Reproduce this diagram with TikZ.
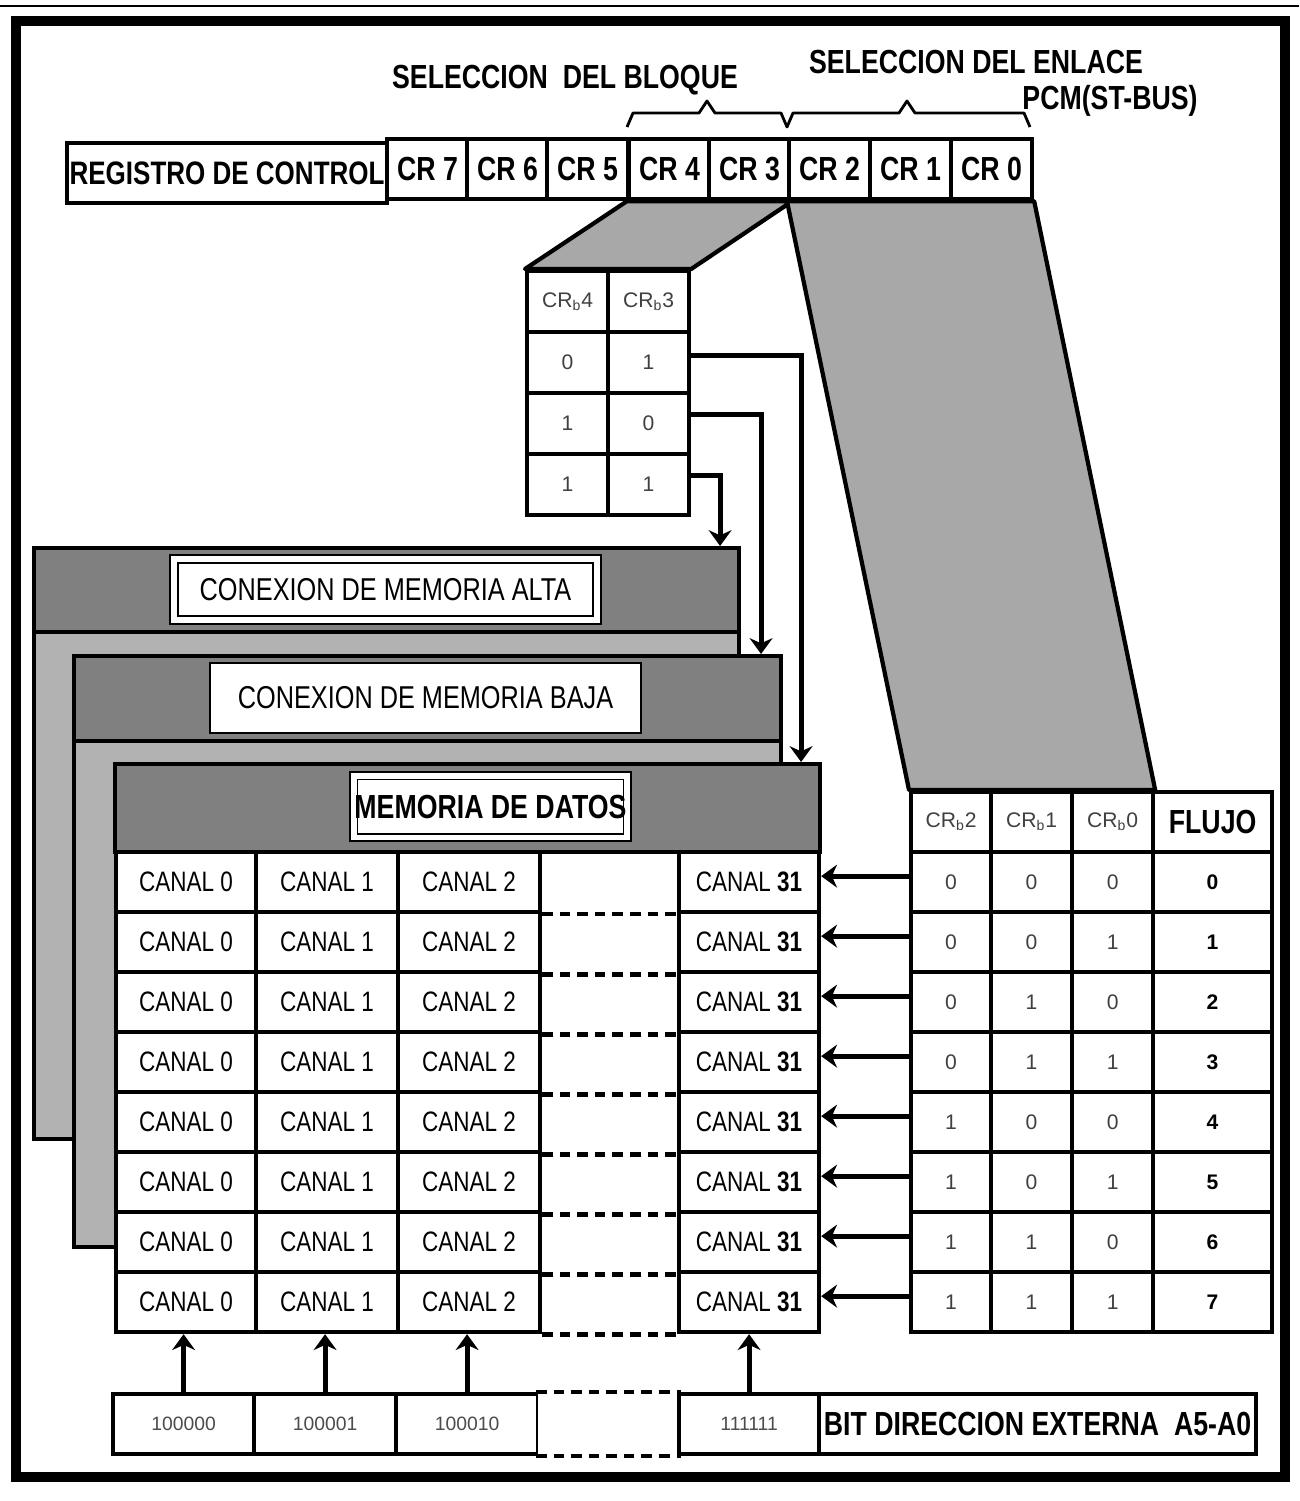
\documentclass[tikz,border=0pt]{standalone}
\usepackage{fontspec}
\setmainfont{Liberation Sans}
\newfontfamily\narrowfont[FakeStretch=0.8]{Liberation Sans}
\usetikzlibrary{arrows.meta,positioning,calc,backgrounds}

\begin{document}
\begin{tikzpicture}[
    x=0.02cm, y=-0.02cm,
    cell/.style={rectangle, draw, line width=2.4pt, inner sep=0pt, anchor=north west, minimum height=1.2cm, fill=white},
    boldtxt/.style={font=\narrowfont\bfseries\fontsize{19}{21}\selectfont},
    memtxt/.style={font=\narrowfont\fontsize{18}{20}\selectfont},
    canaltxt/.style={font=\narrowfont\fontsize{16}{18}\selectfont},
    smalltxt/.style={font=\fontsize{12}{14}\selectfont, text=black!75},
    addrtxt/.style={font=\fontsize{11}{13}\selectfont, text=black!70},
    dbox/.style={draw, fill=white, double=white, double distance=3.4pt, line width=1.1pt, inner sep=0pt},
    sbox/.style={draw, fill=white, line width=1.2pt, inner sep=0pt},
    dashline/.style={line width=2.6pt, dash pattern=on 6pt off 4pt},
    arrow/.style={->, >={Stealth[length=9pt, width=13pt]}, line width=2.8pt}
]
\useasboundingbox (0,0) rectangle (1299,1501);

% Frame
\draw[line width=1.2pt] (0,6) -- (1299,6);
\draw[line width=6pt] (16,21) rectangle (1285,1477);

% Control register
\node[cell, minimum width=6.4cm, boldtxt, font=\narrowfont\bfseries\fontsize{18.5}{21}\selectfont] (reg) at (65,141) {REGISTRO DE CONTROL};
\foreach \n/\x in {7/385, 6/465, 5/545, 4/627, 3/707, 2/787, 1/868, 0/949}
    \node[cell, minimum width=1.62cm, boldtxt] (cr\n) at (\x,137) {CR \n};

% Braces and titles
\draw[line width=1.6pt, line join=round]
    (627,127) -- (633,113) -- (699,113) -- (707,101) -- (715,113) -- (781,113) -- (787,127)
    -- (793,113) -- (899,113) -- (907,101) -- (915,113) -- (1024,113) -- (1030,127);
\node[boldtxt] (selbloque) at (565,80) {SELECCION\ \ DEL BLOQUE};
\node[boldtxt] (selenlace) at (976,62) {SELECCION DEL ENLACE};
\node[boldtxt] (pcm) at (1110,101) {PCM(ST-BUS)};

% Block selection table
\node[cell, minimum width=1.62cm, minimum height=1.22cm, smalltxt] (bh4) at (525,269) {CR\textsubscript{b}4};
\node[cell, minimum width=1.62cm, minimum height=1.22cm, smalltxt] (bh3) at (606,269) {CR\textsubscript{b}3};
\foreach \r/\p/\q in {1/0/1, 2/1/0, 3/1/1} {
    \pgfmathsetmacro{\yy}{330+61*(\r-1)}
    \node[cell, minimum width=1.62cm, minimum height=1.22cm, smalltxt] (blk-\r-4) at (525,\yy) {\p};
    \node[cell, minimum width=1.62cm, minimum height=1.22cm, smalltxt] (blk-\r-3) at (606,\yy) {\q};
}

% Memory blocks
\node[cell, fill=gray!60, minimum width=14.1cm, minimum height=11.82cm] (alta) at (32,546) {};
\node[cell, fill=gray, minimum width=14.1cm, minimum height=1.68cm] (altah) at (32,546) {};
\node[dbox, minimum width=8.46cm, minimum height=1.22cm, memtxt] (altal) at (385.5,589.5) {CONEXION DE MEMORIA ALTA};

\node[cell, fill=gray!60, minimum width=14.14cm, minimum height=11.82cm] (baja) at (72,654) {};
\node[cell, fill=gray, minimum width=14.14cm, minimum height=1.7cm] (bajah) at (72,654) {};
\node[sbox, minimum width=8.62cm, minimum height=1.4cm, memtxt] (bajal) at (425.5,698) {CONEXION DE MEMORIA BAJA};

\node[cell, draw=none, minimum width=14.1cm, minimum height=11.36cm] (datos) at (113,762) {};
\node[cell, fill=gray, minimum width=14.1cm, minimum height=1.76cm] (datosh) at (113,762) {};
\node[dbox, minimum width=5.48cm, minimum height=1.24cm, boldtxt] (datosl) at (490.5,806.5) {MEMORIA DE DATOS};

% Channels
\foreach \r in {1,...,8} {
    \pgfmathsetmacro{\yy}{850+60*(\r-1)}
    \node[cell, minimum width=2.8cm, canaltxt] (can-\r-0) at (114,\yy) {CANAL 0};
    \node[cell, minimum width=2.84cm, canaltxt] (can-\r-1) at (254,\yy) {CANAL 1};
    \node[cell, minimum width=2.84cm, canaltxt] (can-\r-2) at (396,\yy) {CANAL 2};
    \node[cell, minimum width=2.8cm, canaltxt] (can-\r-31) at (677,\yy) {CANAL \textbf{31}};
    \draw[dashline] (can-\r-2.south east) -- (can-\r-31.south west);
}

% Stream table
\node[cell, minimum width=1.6cm, smalltxt] (f2h) at (909,790) {CR\textsubscript{b}2};
\node[cell, minimum width=1.62cm, smalltxt] (f1h) at (989,790) {CR\textsubscript{b}1};
\node[cell, minimum width=1.62cm, smalltxt] (f0h) at (1070,790) {CR\textsubscript{b}0};
\node[cell, minimum width=2.38cm, boldtxt] (fh) at (1151,790) {FLUJO};
\foreach \r/\a/\b/\c in {1/0/0/0, 2/0/0/1, 3/0/1/0, 4/0/1/1, 5/1/0/0, 6/1/0/1, 7/1/1/0, 8/1/1/1} {
    \pgfmathsetmacro{\yy}{850+60*(\r-1)}
    \pgfmathtruncatemacro{\n}{\r-1}
    \node[cell, minimum width=1.6cm, smalltxt] (fl-\r-2) at (909,\yy) {\a};
    \node[cell, minimum width=1.62cm, smalltxt] (fl-\r-1) at (989,\yy) {\b};
    \node[cell, minimum width=1.62cm, smalltxt] (fl-\r-0) at (1070,\yy) {\c};
    \node[cell, minimum width=2.38cm, smalltxt, text=black, font=\bfseries\fontsize{12}{14}\selectfont] (fl-\r-n) at (1151,\yy) {\n};
    \draw[arrow] ([yshift=3.4pt]fl-\r-2.west) -- ([yshift=3.4pt]can-\r-31.east);
}

% External address bits
\node[cell, minimum width=2.82cm, addrtxt] (addr-a) at (111,1392) {100000};
\node[cell, minimum width=2.84cm, addrtxt] (addr-b) at (252,1392) {100001};
\node[cell, minimum width=2.84cm, addrtxt] (addr-c) at (394,1392) {100010};
\node[cell, draw=none, minimum width=2.82cm] (addr-d) at (536,1392) {};
\node[cell, minimum width=2.8cm, addrtxt] (addr-e) at (677,1392) {111111};
\node[cell, minimum width=8.74cm, boldtxt] (addr-f) at (817,1392) {BIT DIRECCION EXTERNA\ \ A5-A0};
\draw[dashline, line width=2pt] (addr-d.north west) -- (addr-d.north east);
\draw[dashline, line width=2pt] (addr-d.south west) -- (addr-d.south east);
\foreach \a/\c in {a/0, b/1, c/2, e/31}
    \draw[arrow] (addr-\a.north) -- (addr-\a.north |- can-8-\c.south);

% Block select arrows
\draw[arrow] ([yshift=4.3pt]blk-1-3.east) -| ([xshift=-0.42cm]datosh.north east);
\draw[arrow] ([yshift=5pt]blk-2-3.east) -| ([xshift=-0.44cm]bajah.north east);
\draw[arrow] ([yshift=5pt]blk-3-3.east) -| ([xshift=-0.42cm]altah.north east);

% Projections
\begin{scope}[on background layer]
    \draw[fill=gray!68, line width=2.4pt, line join=round] (bh4.north west) -- (cr4.south west) -- (cr3.south east) -- (bh3.north east) -- cycle;
    \draw[fill=gray!68, line width=2.4pt, line join=round] (cr2.south west) -- (cr0.south east) -- (f0h.north east) -- (f2h.north west) -- cycle;
\end{scope}

\end{tikzpicture}
\end{document}
